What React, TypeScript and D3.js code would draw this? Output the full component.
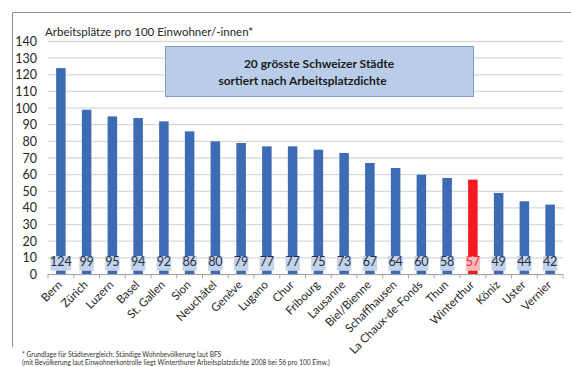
import React from "react";
import * as d3 from "d3";

const cities = [
  "Bern", "Zürich", "Luzern", "Basel", "St. Gallen", "Sion", "Neuchâtel", "Genève",
  "Lugano", "Chur", "Fribourg", "Lausanne", "Biel/Bienne", "Schaffhausen",
  "La Chaux-de-Fonds", "Thun", "Winterthur", "Köniz", "Uster", "Vernier",
];
const values = [124, 99, 95, 94, 92, 86, 80, 79, 77, 77, 75, 73, 67, 64, 60, 58, 57, 49, 44, 42];
const highlight = "Winterthur";
const yTicks = [0, 10, 20, 30, 40, 50, 60, 70, 80, 90, 100, 110, 120, 130, 140];
const yTitle = "Arbeitsplätze pro 100 Einwohner/-innen*";
const boxLines = ["20 grösste Schweizer Städte", "sortiert nach Arbeitsplatzdichte"];
const footnotes = [
  "* Grundlage für Städtevergleich: Ständige Wohnbevölkerung laut BFS",
  "(mit Bevölkerung laut Einwohnerkontrolle liegt Winterthurer Arbeitsplatzdichte 2008 bei 56 pro 100 Einw.)",
];

const W = 571, H = 367;
const FONT = "Lato, 'Open Sans', sans-serif";
const BLUE = "#3d6cb4";
const RED = "#f21b1f";

export default function App() {
  const x = d3.scaleBand<string>().domain(cities).range([48, 563]).paddingInner(0.63).paddingOuter(0.315);
  const xb = d3.scaleBand<string>().domain(cities).range([48, 563]);
  const y = d3.scaleLinear().domain([0, 140]).range([274.5, 41.5]);
  const bw = x.bandwidth();

  return (
    <div style={{ position: "fixed", left: 0, top: 0, background: "#fff" }}>
      <svg width={W} height={H} style={{ display: "block", fontFamily: FONT }}>
        <rect x={0} y={0} width={W} height={H} fill="#fff" />
        {/* frame */}
        <line x1={12.5} x2={W} y1={12.5} y2={12.5} stroke="#8c8c8c" strokeWidth={1} />
        <line x1={12.5} x2={12.5} y1={12.5} y2={347} stroke="#8c8c8c" strokeWidth={1} />

        {/* gridlines */}
        {yTicks.map((t) => (
          <line key={"g" + t} x1={48} x2={563} y1={y(t)} y2={y(t)} stroke="#d9d9d9" strokeWidth={1.3} />
        ))}
        {/* y labels */}
        {yTicks.map((t) => (
          <text key={"yl" + t} x={37} y={y(t) + 4.5} textAnchor="end" fontSize={12.5} fill="#262626">
            {t}
          </text>
        ))}
        <text x={45} y={36} fontSize={11.5} fill="#262626">{yTitle}</text>

        {/* bars */}
        {cities.map((c, i) => (
          <rect key={"b" + c} x={x(c)} y={y(values[i])} width={bw} height={y(0) - y(values[i])}
            fill={c === highlight ? RED : BLUE} />
        ))}

        {/* axis */}
        <line x1={48} x2={563} y1={y(0)} y2={y(0)} stroke="#a6a6a6" strokeWidth={1} />
        {cities.map((c) => (
          <line key={"t" + c} x1={(xb(c) as number)} x2={(xb(c) as number)} y1={y(0)} y2={y(0) + 4} stroke="#a6a6a6" />
        ))}
        <line x1={563} x2={563} y1={y(0)} y2={y(0) + 4} stroke="#a6a6a6" />

        {/* data labels */}
        {cities.map((c, i) => {
          const cx = (x(c) as number) + bw / 2;
          const s = String(values[i]);
          const w = s.length * 6.2 + 2;
          const col = c === highlight ? RED : BLUE;
          return (
            <g key={"l" + c}>
              <rect x={cx - w / 2} y={y(11.1)} width={w} height={y(2.3) - y(11.1)} fill="#fff" />
              <rect x={cx - w / 2} y={y(11.1)} width={w} height={y(2.3) - y(11.1)} fill={col} opacity={0.3} />
              <text x={cx} y={y(5)} textAnchor="middle" fontSize={12.5}
                fill={c === highlight ? "#e8323a" : "#1f2f4a"}>{s}</text>
            </g>
          );
        })}

        {/* x labels */}
        {cities.map((c) => {
          const cx = (x(c) as number) + bw / 2 + 2;
          return (
            <text key={"xl" + c} transform={`translate(${cx},${y(0) + 11}) rotate(-45)`} textAnchor="end"
              fontSize={11.5} fill="#262626">{c}</text>
          );
        })}

        {/* text box */}
        <rect x={165.5} y={46.5} width={308} height={50} fill="#b9cde8" stroke="#7d9cc8" strokeWidth={1} />
        <text x={319} y={68} textAnchor="middle" fontSize={12} fontWeight="bold" fill="#1a1a1a">{boxLines[0]}</text>
        <text x={302.5} y={85} textAnchor="middle" fontSize={12} fontWeight="bold" fill="#1a1a1a">{boxLines[1]}</text>

        {/* footnotes */}
        <text x={22} y={356.5} fontSize={6.6} fill="#333">{footnotes[0]}</text>
        <text x={22} y={365} fontSize={6.6} fill="#333">{footnotes[1]}</text>
      </svg>
    </div>
  );
}
